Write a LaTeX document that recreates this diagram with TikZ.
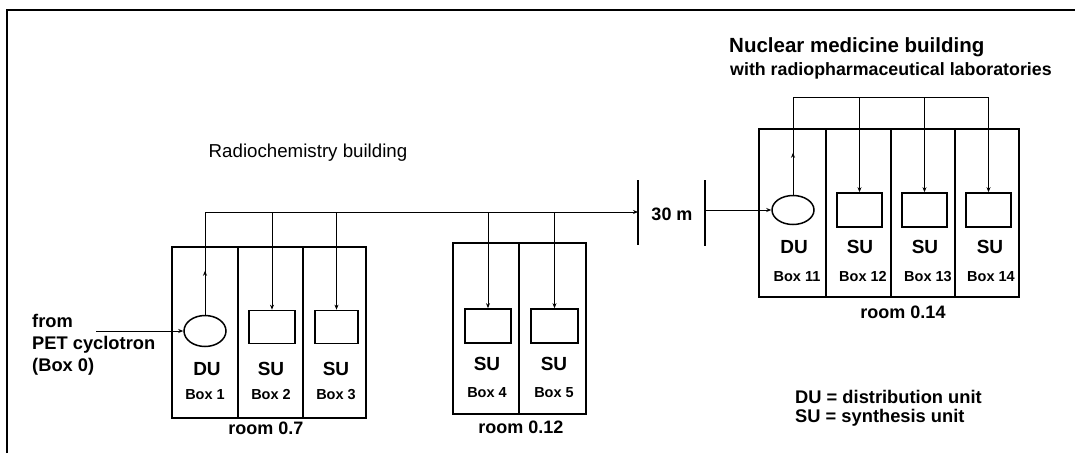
\documentclass[tikz,border=0pt]{standalone}
\usepackage{fontspec}
\setmainfont{Liberation Sans}
\usetikzlibrary{arrows.meta,decorations.markings,shapes.geometric}
\begin{document}
\begin{tikzpicture}[x=1pt,y=-1pt,
  comp/.style n args={2}{draw,line width=1.7pt,minimum width=#1,minimum height=#2,inner sep=0pt,outer sep=0pt},
  sub/.style={draw,line width=1.7pt,minimum width=45pt,minimum height=33pt,inner sep=0pt},
  dist/.style={draw,ellipse,line width=1.5pt,minimum width=42pt,minimum height=31pt,inner sep=0pt},
  wire/.style={line width=0.9pt},
  tip/.style={-{Stealth[length=5pt,width=4pt]}},
  upmark/.style={postaction={decorate},decoration={markings,mark=at position #1 with {\arrow{Stealth[length=5pt,width=4pt]}}}},
  barline/.style={line width=1.8pt},
  unit/.style={font=\bfseries\fontsize{19}{21}\selectfont,inner sep=0pt},
  boxlbl/.style={font=\bfseries\fontsize{14.5}{16}\selectfont,inner sep=0pt},
  roomlbl/.style={font=\bfseries\fontsize{18}{20}\selectfont,inner sep=0pt},
  plain/.style={font=\bfseries\fontsize{18.3}{22}\selectfont,inner sep=0pt}
]
\useasboundingbox (0,0) rectangle (1075,453);
% frame
\draw[line width=1.4pt] (7,453) -- (7,10) -- (1075,10);

% titles
\node[inner sep=0pt,font=\fontsize{18.7}{21}\selectfont] (t1) at (308,153) {Radiochemistry building};
\node[inner sep=0pt,anchor=west,font=\bfseries\fontsize{20.5}{23}\selectfont] (t2) at (729,47) {Nuclear medicine building};
\node[inner sep=0pt,anchor=west,font=\bfseries\fontsize{17.8}{20}\selectfont] (t3) at (730,71) {with radiopharmaceutical laboratories};

% room 0.7
\node[comp={66pt}{171pt}] (c1) at (205,332.5) {};
\node[comp={65pt}{171pt}] (c2) at (270.5,332.5) {};
\node[comp={63pt}{171pt}] (c3) at (334.5,332.5) {};
\node[dist] (du1) at (205,331) {};
\node[sub,minimum width=46pt] (su2) at (272,327) {};
\node[sub,minimum width=43pt] (su3) at (336.5,327) {};
\node[unit] (l1) at (207,369) {DU};
\node[unit] (l2) at (271,369) {SU};
\node[unit] (l3) at (336,369) {SU};
\node[boxlbl] (b1) at (205,395) {Box 1};
\node[boxlbl] (b2) at (271,395) {Box 2};
\node[boxlbl] (b3) at (336,395) {Box 3};
\node[roomlbl] (r1) at (266,428) {room 0.7};

% room 0.12
\node[comp={66pt}{171pt}] (c4) at (486,328.5) {};
\node[comp={67pt}{171pt}] (c5) at (552.5,328.5) {};
\node[sub,minimum width=46pt,minimum height=34pt] (su4) at (488,326) {};
\node[sub,minimum width=47pt,minimum height=34pt] (su5) at (554.5,326) {};
\node[unit] (l4) at (487,364) {SU};
\node[unit] (l5) at (554,364) {SU};
\node[boxlbl] (b4) at (487,393) {Box 4};
\node[boxlbl] (b5) at (554,393) {Box 5};
\node[roomlbl] (r2) at (521,427) {room 0.12};

% room 0.14
\node[comp={67pt}{168pt}] (c11) at (792.5,213) {};
\node[comp={65pt}{168pt}] (c12) at (858.5,213) {};
\node[comp={64pt}{168pt}] (c13) at (923,213) {};
\node[comp={64pt}{168pt}] (c14) at (987,213) {};
\node[dist,minimum height=29pt] (du11) at (793,210) {};
\node[sub,minimum height=34pt] (su12) at (859.5,210) {};
\node[sub,minimum height=34pt] (su13) at (924.5,210) {};
\node[sub,minimum height=34pt] (su14) at (988.5,210) {};
\node[unit] (l11) at (794,247) {DU};
\node[unit] (l12) at (860,247) {SU};
\node[unit] (l13) at (925,247) {SU};
\node[unit] (l14) at (990,247) {SU};
\node[boxlbl] (b11) at (797,277) {Box 11};
\node[boxlbl] (b12) at (863,277) {Box 12};
\node[boxlbl] (b13) at (928,277) {Box 13};
\node[boxlbl] (b14) at (991,277) {Box 14};
\node[roomlbl] (r3) at (903,312) {room 0.14};

% source
\node[plain,align=left,anchor=west] (src) at (32,345) {from\\PET cyclotron\\(Box 0)};
\coordinate (srcpt) at (96,331);
\draw[wire,tip] (srcpt) -- (du1.west);

% 30 m bars
\coordinate (b1t) at (638,180);
\coordinate (b1b) at (638,245);
\coordinate (b2t) at (705,180);
\coordinate (b2b) at (705,246);
\draw[barline] (b1t) -- (b1b);
\draw[barline] (b2t) -- (b2b);
\coordinate (bar1m) at (638,212);
\coordinate (bar2m) at (705,210);
\node[font=\bfseries\fontsize{18}{20}\selectfont,inner sep=0pt] (dist30) at (672,214) {30 m};

% radiochemistry bus
\draw[wire,tip,upmark=44pt] (du1.north) |- (bar1m);
\draw[wire,tip] (su2.north |- bar1m) -- (su2.north);
\draw[wire,tip] (su3.north |- bar1m) -- (su3.north);
\draw[wire,tip] (su4.north |- bar1m) -- (su4.north);
\draw[wire,tip] (su5.north |- bar1m) -- (su5.north);

% nuclear medicine bus
\draw[wire,tip] (bar2m) -- (du11.west);
\coordinate (bus2R) at (988.5,97);
\draw[wire,upmark=42pt] (du11.north) |- (bus2R);
\draw[wire,tip] (bus2R) -- (su14.north);
\draw[wire,tip] (su12.north |- bus2R) -- (su12.north);
\draw[wire,tip] (su13.north |- bus2R) -- (su13.north);

% legend
\node[plain,anchor=west] (leg1) at (795,397) {DU = distribution unit};
\node[plain,anchor=west] (leg2) at (795,418) {SU = synthesis unit};
\end{tikzpicture}
\end{document}
